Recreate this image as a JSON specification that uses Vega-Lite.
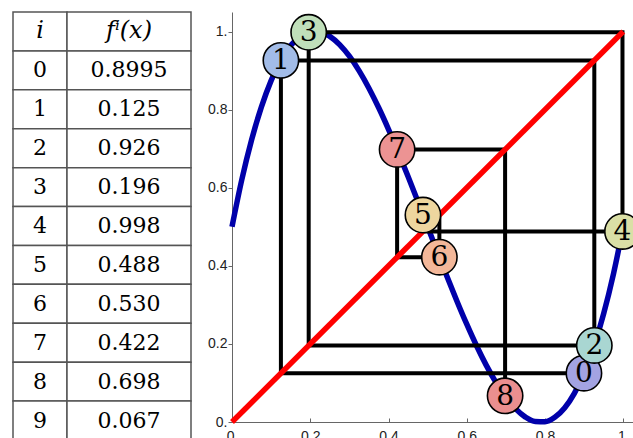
{
  "$schema": "https://vega.github.io/schema/vega-lite/v6.json",
  "padding": {"left": 12, "top": 11, "right": 0, "bottom": 0},
  "bounds": "full",
  "spacing": 15,
  "config": {"view": {"stroke": null}},
  "datasets": {
    "table": [
      {"r": "h", "i": "i", "v": "fⁱ(x)"},
      {"r": "0", "i": "0", "v": "0.8995"},
      {"r": "1", "i": "1", "v": "0.125"},
      {"r": "2", "i": "2", "v": "0.926"},
      {"r": "3", "i": "3", "v": "0.196"},
      {"r": "4", "i": "4", "v": "0.998"},
      {"r": "5", "i": "5", "v": "0.488"},
      {"r": "6", "i": "6", "v": "0.530"},
      {"r": "7", "i": "7", "v": "0.422"},
      {"r": "8", "i": "8", "v": "0.698"},
      {"r": "9", "i": "9", "v": "0.067"}
    ]
  },
  "hconcat": [
    {
      "spacing": 0,
      "bounds": "flush",
      "hconcat": [
        {
          "width": 54,
          "height": 428,
          "data": {"name": "table"},
          "layer": [
            {
              "mark": {"type": "rect", "fill": "white", "stroke": "#555555", "strokeWidth": 1.5},
              "encoding": {
                "y": {"field": "r", "type": "ordinal", "sort": null, "scale": {"paddingInner": 0, "paddingOuter": 0}, "axis": null}
              }
            },
            {
              "transform": [{"filter": "datum.r != 'h'"}],
              "mark": {"type": "text", "font": "DejaVu Serif", "fontSize": 22, "baseline": "middle", "align": "center", "color": "black"},
              "encoding": {
                "y": {"field": "r", "type": "ordinal", "sort": null, "axis": null},
                "text": {"field": "i"}
              }
            },
            {
              "transform": [{"filter": "datum.r == 'h'"}],
              "mark": {"type": "text", "font": "DejaVu Serif", "fontStyle": "italic", "fontSize": 24, "baseline": "middle", "align": "center", "color": "black"},
              "encoding": {
                "y": {"field": "r", "type": "ordinal", "sort": null, "axis": null},
                "text": {"field": "i"}
              }
            }
          ]
        },
        {
          "width": 124,
          "height": 428,
          "data": {"name": "table"},
          "layer": [
            {
              "mark": {"type": "rect", "fill": "white", "stroke": "#555555", "strokeWidth": 1.5},
              "encoding": {
                "y": {"field": "r", "type": "ordinal", "sort": null, "scale": {"paddingInner": 0, "paddingOuter": 0}, "axis": null}
              }
            },
            {
              "transform": [{"filter": "datum.r != 'h'"}],
              "mark": {"type": "text", "font": "DejaVu Serif", "fontSize": 22, "baseline": "middle", "align": "center", "color": "black"},
              "encoding": {
                "y": {"field": "r", "type": "ordinal", "sort": null, "axis": null},
                "text": {"field": "v"}
              }
            },
            {
              "transform": [{"filter": "datum.r == 'h'"}],
              "mark": {"type": "text", "font": "DejaVu Serif", "fontStyle": "italic", "fontSize": 24, "baseline": "middle", "align": "center", "color": "black"},
              "encoding": {
                "y": {"field": "r", "type": "ordinal", "sort": null, "axis": null},
                "text": {"field": "v"}
              }
            }
          ]
        }
      ]
    },
    {
      "width": 403,
      "height": 410,
      "encoding": {
        "x": {"field": "x", "type": "quantitative", "scale": {"domain": [0, 1.03], "nice": false, "zero": false},
          "axis": {"values": [0, 0.2, 0.4, 0.6, 0.8, 1], "labelExpr": "datum.value == 0 ? '0.' : datum.value == 1 ? '1.' : format(datum.value, '.1f')", "title": null, "grid": false, "domainColor": "#666666", "tickColor": "#666666", "tickSize": -4, "labelPadding": 11, "labelFont": "Liberation Sans", "labelFontSize": 14, "labelColor": "#222222", "labelFlush": false}},
        "y": {"field": "y", "type": "quantitative", "scale": {"domain": [0, 1.05], "nice": false, "zero": false},
          "axis": {"values": [0, 0.2, 0.4, 0.6, 0.8, 1], "labelExpr": "datum.value == 0 ? '0.' : datum.value == 1 ? '1.' : format(datum.value, '.1f')", "title": null, "grid": false, "domainColor": "#666666", "tickColor": "#666666", "tickSize": 4, "labelPadding": 1, "labelFont": "Liberation Sans", "labelFontSize": 14, "labelColor": "#222222", "labelFlush": false}}
      },
      "layer": [
        {
          "data": {"values": [
            {"x": 0, "y": 0.5}, {"x": 0.025, "y": 0.6204}, {"x": 0.05, "y": 0.7223}, {"x": 0.075, "y": 0.8066},
            {"x": 0.1, "y": 0.8744}, {"x": 0.125, "y": 0.9266}, {"x": 0.15, "y": 0.9641}, {"x": 0.175, "y": 0.988},
            {"x": 0.2, "y": 0.9992}, {"x": 0.225, "y": 0.9987}, {"x": 0.25, "y": 0.9875}, {"x": 0.275, "y": 0.9665},
            {"x": 0.3, "y": 0.9368}, {"x": 0.325, "y": 0.8993}, {"x": 0.35, "y": 0.8549}, {"x": 0.375, "y": 0.8047},
            {"x": 0.4, "y": 0.7496}, {"x": 0.425, "y": 0.6906}, {"x": 0.45, "y": 0.6287}, {"x": 0.475, "y": 0.5648},
            {"x": 0.5, "y": 0.5}, {"x": 0.525, "y": 0.4352}, {"x": 0.55, "y": 0.3713}, {"x": 0.575, "y": 0.3094},
            {"x": 0.6, "y": 0.2504}, {"x": 0.625, "y": 0.1953}, {"x": 0.65, "y": 0.1451}, {"x": 0.675, "y": 0.1007},
            {"x": 0.7, "y": 0.0632}, {"x": 0.725, "y": 0.0335}, {"x": 0.75, "y": 0.0125}, {"x": 0.775, "y": 0.0013},
            {"x": 0.8, "y": 0.0008}, {"x": 0.825, "y": 0.012}, {"x": 0.85, "y": 0.0359}, {"x": 0.875, "y": 0.0734},
            {"x": 0.9, "y": 0.1256}, {"x": 0.925, "y": 0.1934}, {"x": 0.95, "y": 0.2777}, {"x": 0.975, "y": 0.3796},
            {"x": 1, "y": 0.5}
          ]},
          "mark": {"type": "line", "color": "#0000AA", "strokeWidth": 5.5, "interpolate": "monotone"},
          "encoding": {}
        },
        {
          "data": {"values": [
            {"k": 0, "x": 0.8995, "y": 0.125}, {"k": 1, "x": 0.125, "y": 0.125}, {"k": 2, "x": 0.125, "y": 0.926},
            {"k": 3, "x": 0.926, "y": 0.926}, {"k": 4, "x": 0.926, "y": 0.196}, {"k": 5, "x": 0.196, "y": 0.196},
            {"k": 6, "x": 0.196, "y": 0.998}, {"k": 7, "x": 0.998, "y": 0.998}, {"k": 8, "x": 0.998, "y": 0.488},
            {"k": 9, "x": 0.488, "y": 0.488}, {"k": 10, "x": 0.488, "y": 0.53}, {"k": 11, "x": 0.53, "y": 0.53},
            {"k": 12, "x": 0.53, "y": 0.422}, {"k": 13, "x": 0.422, "y": 0.422}, {"k": 14, "x": 0.422, "y": 0.698},
            {"k": 15, "x": 0.698, "y": 0.698}, {"k": 16, "x": 0.698, "y": 0.067}
          ]},
          "mark": {"type": "line", "color": "black", "strokeWidth": 4, "strokeJoin": "miter"},
          "encoding": {"order": {"field": "k", "type": "quantitative"}}
        },
        {
          "data": {"values": [{"x": 0, "y": 0}, {"x": 1, "y": 1}]},
          "mark": {"type": "line", "color": "#FF0000", "strokeWidth": 5.5},
          "encoding": {}
        },
        {
          "data": {"values": [
            {"i": "0", "x": 0.8995, "y": 0.125}, {"i": "1", "x": 0.125, "y": 0.926}, {"i": "2", "x": 0.926, "y": 0.196},
            {"i": "3", "x": 0.196, "y": 0.998}, {"i": "4", "x": 0.998, "y": 0.488}, {"i": "5", "x": 0.488, "y": 0.53},
            {"i": "6", "x": 0.53, "y": 0.422}, {"i": "7", "x": 0.422, "y": 0.698}, {"i": "8", "x": 0.698, "y": 0.067}
          ]},
          "layer": [
            {
              "mark": {"type": "point", "filled": true, "size": 1250, "stroke": "black", "strokeWidth": 1.6, "opacity": 1},
              "encoding": {
                "fill": {"field": "i", "type": "nominal", "legend": null,
                  "scale": {"domain": ["0", "1", "2", "3", "4", "5", "6", "7", "8"],
                    "range": ["#A3A3E2", "#A2BCE8", "#A9D6D2", "#C0DFBA", "#DADFA6", "#EED69E", "#F3B799", "#EC9393", "#EB8F8F"]}}
              }
            },
            {
              "mark": {"type": "text", "font": "DejaVu Serif", "fontSize": 28, "baseline": "middle", "align": "center", "color": "black", "dy": 1},
              "encoding": {"text": {"field": "i"}}
            }
          ]
        }
      ]
    }
  ]
}
